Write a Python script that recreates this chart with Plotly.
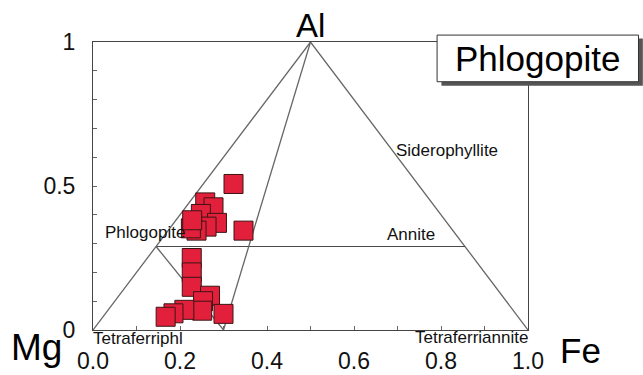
import plotly.graph_objects as go

# Biotite classification diagram: Fe/(Fe+Mg) versus Al
# Corner compositions of the triangle
mg_corner = (0.0, 0.0)
al_corner = (0.5, 1.0)
fe_corner = (1.0, 0.0)

# Phlogopite-Annite join and dividing lines
join_y = 0.29
join_x = [join_y / 2, 1 - join_y / 2]
divide_base_x = 0.30

# Tick labels
x_ticks = [0.0, 0.2, 0.4, 0.6, 0.8, 1.0]
x_tick_text = ["0.0", "0.2", "0.4", "0.6", "0.8", "1.0"]
y_ticks = [0.0, 0.5, 1.0]
y_tick_text = ["0", "0.5", "1"]

# Analysed micas: Fe/(Fe+Mg) and Al
mica_fe = [0.323, 0.346, 0.258, 0.277, 0.248, 0.285, 0.261, 0.238, 0.225, 0.228,
           0.227, 0.227, 0.227, 0.269, 0.253, 0.251, 0.210, 0.185, 0.167, 0.300]
mica_al = [0.507, 0.345, 0.443, 0.426, 0.403, 0.372, 0.359, 0.345, 0.353, 0.381,
           0.250, 0.200, 0.150, 0.119, 0.100, 0.067, 0.070, 0.058, 0.046, 0.056]

FONT = "Arial, Liberation Sans, sans-serif"
LINE = "#666666"

fig = go.Figure()

# Triangle outline
fig.add_trace(go.Scatter(
    x=[mg_corner[0], al_corner[0], fe_corner[0]],
    y=[mg_corner[1], al_corner[1], fe_corner[1]],
    mode="lines", line=dict(color=LINE, width=1.3), hoverinfo="skip"))

# Phlogopite - Annite join
fig.add_trace(go.Scatter(
    x=join_x, y=[join_y, join_y],
    mode="lines", line=dict(color="#4a4a4a", width=1.1), hoverinfo="skip"))

# Lines from Al corner and from Phlogopite down to the base
fig.add_trace(go.Scatter(
    x=[al_corner[0], divide_base_x, None, join_x[0], divide_base_x],
    y=[al_corner[1], 0.0, None, join_y, 0.0],
    mode="lines", line=dict(color=LINE, width=1.3), hoverinfo="skip"))

# Mica analyses
fig.add_trace(go.Scatter(
    x=mica_fe, y=mica_al, mode="markers",
    marker=dict(symbol="square", size=19, color="#e3203b",
                line=dict(color="#3b1515", width=1)),
    hoverinfo="skip", cliponaxis=False))

# Axes span the full paper domain with range [0, 1], so paper
# coordinates coincide with data coordinates here.
small = dict(family=FONT, size=17, color="#111111")
annotations = [
    dict(x=0.814, y=0.622, text="Siderophyllite", font=small, xanchor="center"),
    dict(x=0.731, y=0.33, text="Annite", font=small, xanchor="center"),
    dict(x=0.022, y=0.337, text="Phlogopite", font=small, xanchor="left"),
    dict(x=-0.004, y=-0.028, text="Tetraferriphl", font=small, xanchor="left"),
    dict(x=0.871, y=-0.026, text="Tetraferriannite", font=small, xanchor="center"),
    dict(x=0.501, y=1.058, text="Al", font=dict(family=FONT, size=33, color="#000"),
         xanchor="center"),
    dict(x=-0.131, y=-0.062, text="Mg", font=dict(family=FONT, size=37, color="#000"),
         xanchor="center"),
    dict(x=1.12, y=-0.07, text="Fe", font=dict(family=FONT, size=35, color="#000"),
         xanchor="center"),
    dict(x=1.022, y=0.944, text="Phlogopite", font=dict(family=FONT, size=35, color="#000"),
         xanchor="center"),
]
for a in annotations:
    a.update(xref="paper", yref="paper", showarrow=False, yanchor="middle")

shapes = [
    # title box shadow and box
    dict(type="rect", xref="paper", yref="paper", x0=0.801, x1=1.264, y0=0.848, y1=1.012,
         fillcolor="#555555", line=dict(width=0), layer="above"),
    dict(type="rect", xref="paper", yref="paper", x0=0.791, x1=1.254, y0=0.862, y1=1.024,
         fillcolor="white", line=dict(color="#333333", width=1), layer="above"),
]

fig.update_layout(
    width=643, height=375,
    margin=dict(l=93, r=115, t=42, b=45, autoexpand=False),
    paper_bgcolor="white", plot_bgcolor="white",
    showlegend=False,
    annotations=annotations,
    shapes=shapes,
    xaxis=dict(range=[0, 1], tickvals=x_ticks, ticktext=x_tick_text,
               automargin=False,
               showgrid=False, zeroline=False, showline=True, mirror=True,
               linecolor="#444444", linewidth=1,
               ticks="inside", ticklen=4, tickcolor="#666666",
               minor=dict(ticks="inside", ticklen=4, tickcolor="#666666", dtick=0.1),
               ticklabelstandoff=10,
               tickfont=dict(family=FONT, size=23, color="#111111")),
    yaxis=dict(range=[0, 1], tickvals=y_ticks, ticktext=y_tick_text,
               automargin=False,
               showgrid=False, zeroline=False, showline=True, mirror=True,
               linecolor="#444444", linewidth=1,
               ticks="inside", ticklen=4, tickcolor="#666666",
               minor=dict(ticks="inside", ticklen=4, tickcolor="#666666", dtick=0.1),
               ticklabelstandoff=12,
               tickfont=dict(family=FONT, size=23, color="#111111")),
)

fig.write_html("out.html")
